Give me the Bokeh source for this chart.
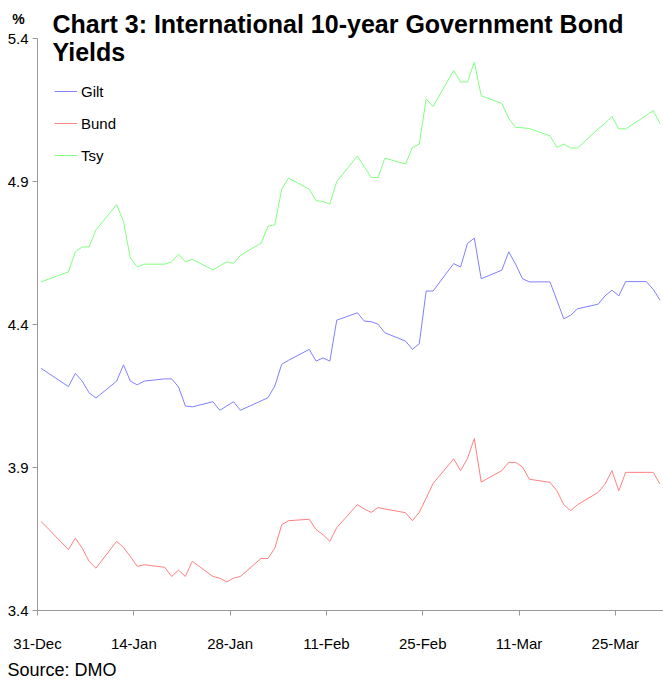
import pandas as pd
from bokeh.plotting import figure
from bokeh.models import Range1d, FixedTicker, Label, Legend, LegendItem
from bokeh.embed import file_html
from bokeh.resources import INLINE

# ---------------- data ----------------
dates = [
    "1998-12-31",
    "1999-01-04", "1999-01-05", "1999-01-06", "1999-01-07", "1999-01-08",
    "1999-01-11", "1999-01-12", "1999-01-13", "1999-01-14", "1999-01-15",
    "1999-01-18", "1999-01-19", "1999-01-20", "1999-01-21", "1999-01-22",
    "1999-01-25", "1999-01-26", "1999-01-27", "1999-01-28", "1999-01-29",
    "1999-02-01", "1999-02-02", "1999-02-03", "1999-02-04", "1999-02-05",
    "1999-02-08", "1999-02-09", "1999-02-10", "1999-02-11", "1999-02-12",
    "1999-02-15", "1999-02-16", "1999-02-17", "1999-02-18", "1999-02-19",
    "1999-02-22", "1999-02-23", "1999-02-24", "1999-02-25", "1999-02-26",
    "1999-03-01", "1999-03-02", "1999-03-03", "1999-03-04", "1999-03-05",
    "1999-03-08", "1999-03-09", "1999-03-10", "1999-03-11", "1999-03-12",
    "1999-03-15", "1999-03-16", "1999-03-17", "1999-03-18", "1999-03-19",
    "1999-03-22", "1999-03-23", "1999-03-24", "1999-03-25", "1999-03-26",
    "1999-03-29", "1999-03-30", "1999-03-31",
]

gilt = [
    4.247,
    4.183, 4.229, 4.202, 4.161, 4.143,
    4.202, 4.259, 4.202, 4.189, 4.202,
    4.210, 4.210, 4.182, 4.115, 4.112,
    4.130, 4.100, 4.115, 4.130, 4.100,
    4.133, 4.144, 4.185, 4.261, 4.275,
    4.313, 4.272, 4.283, 4.272, 4.415,
    4.441, 4.412, 4.410, 4.401, 4.371,
    4.342, 4.313, 4.333, 4.517, 4.517,
    4.613, 4.601, 4.683, 4.702, 4.560,
    4.590, 4.654, 4.611, 4.560, 4.549,
    4.549, 4.485, 4.420, 4.432, 4.455,
    4.471, 4.500, 4.520, 4.500, 4.550,
    4.550, 4.523, 4.485,
]

bund = [
    3.712,
    3.613, 3.653, 3.618, 3.572, 3.548,
    3.642, 3.620, 3.589, 3.554, 3.560,
    3.551, 3.519, 3.541, 3.519, 3.572,
    3.519, 3.513, 3.500, 3.513, 3.519,
    3.582, 3.582, 3.618, 3.700, 3.714,
    3.719, 3.683, 3.665, 3.642, 3.690,
    3.770, 3.755, 3.743, 3.760, 3.755,
    3.742, 3.714, 3.743, 3.793, 3.844,
    3.930, 3.889, 3.931, 4.001, 3.849,
    3.889, 3.918, 3.918, 3.902, 3.859,
    3.848, 3.819, 3.770, 3.749, 3.770,
    3.813, 3.842, 3.889, 3.819, 3.883,
    3.883, 3.883, 3.842,
]

tsy = [
    4.549,
    4.584, 4.654, 4.671, 4.671, 4.731,
    4.819, 4.760, 4.632, 4.601, 4.611,
    4.611, 4.619, 4.646, 4.619, 4.628,
    4.591, 4.605, 4.619, 4.614, 4.642,
    4.684, 4.743, 4.749, 4.873, 4.912,
    4.873, 4.833, 4.830, 4.821, 4.900,
    4.989, 4.952, 4.914, 4.914, 4.982,
    4.961, 5.019, 5.031, 5.189, 5.162,
    5.288, 5.248, 5.248, 5.317, 5.200,
    5.173, 5.121, 5.089, 5.088, 5.085,
    5.060, 5.019, 5.031, 5.017, 5.017,
    5.084, 5.103, 5.128, 5.084, 5.084,
    5.131, 5.148, 5.103,
]

series_names = ["Gilt", "Bund", "Tsy"]
series_colors = ["#8080ff", "#ff8080", "#80ff80"]

tick_dates = ["1998-12-31", "1999-01-14", "1999-01-28", "1999-02-11",
              "1999-02-25", "1999-03-11", "1999-03-25"]
tick_labels = ["31-Dec", "14-Jan", "28-Jan", "11-Feb", "25-Feb", "11-Mar", "25-Mar"]
axis_end_date = "1999-04-01"
y_ticks = [3.4, 3.9, 4.4, 4.9, 5.4]

title_lines = ["Chart 3: International 10-year Government Bond", "Yields"]
y_unit = "%"
source_text = "Source: DMO"

# ---------------- layout ----------------
W, H = 663, 680
# plot-area box inside the page (pixels)
AX_L, AX_R, AX_T, AX_B = 37, 663, 38, 610
FONT = "Liberation Sans"

start = pd.Timestamp(tick_dates[0])
span_days = (pd.Timestamp(axis_end_date) - start).days

# Excel date axis: each day's value sits in the middle of its day slot
x_vals = [(pd.Timestamp(d) - start).days + 0.5 for d in dates]
tick_pos = [(pd.Timestamp(d) - start).days for d in tick_dates]

ppd = (AX_R - AX_L) / span_days                    # pixels per day
ppu = (AX_B - AX_T) / (y_ticks[-1] - y_ticks[0])   # pixels per unit
x0 = -AX_L / ppd
x1 = span_days + (W - AX_R) / ppd
y1 = y_ticks[-1] + AX_T / ppu
y0 = y_ticks[0] - (H - AX_B) / ppu

p = figure(width=W, height=H, output_backend="svg", toolbar_location=None,
           x_range=Range1d(x0, x1), y_range=Range1d(y0, y1),
           min_border=0, min_border_left=0, min_border_right=0,
           min_border_top=0, min_border_bottom=0)
p.outline_line_color = None
p.grid.visible = False
p.background_fill_color = "white"
p.border_fill_color = "white"

renderers = []
for vals, col in zip([gilt, bund, tsy], series_colors):
    renderers.append(p.line(x_vals, vals, line_color=col, line_width=1))

# axes, pinned to the plot-area edges
for ax in (p.xaxis[0], p.yaxis[0]):
    ax.axis_line_color = "#999999"
    ax.major_tick_line_color = "#999999"
    ax.minor_tick_line_color = None
    ax.major_tick_out = 5
    ax.major_tick_in = 0
    ax.major_label_text_font = FONT
    ax.major_label_text_font_size = "15px"
    ax.major_label_text_color = "#000000"

p.xaxis.fixed_location = y_ticks[0]
p.xaxis.bounds = (0, span_days)
p.xaxis.ticker = FixedTicker(ticks=tick_pos)
p.xaxis.major_label_overrides = {int(t): lab for t, lab in zip(tick_pos, tick_labels)}
p.xaxis.major_label_standoff = 19

p.yaxis.fixed_location = 0
p.yaxis.bounds = (y_ticks[0], y_ticks[-1])
p.yaxis.ticker = FixedTicker(ticks=y_ticks)
p.yaxis.major_label_standoff = 4

def px2x(px):
    return x0 + px / ppd
def py2y(py):
    return y1 - py / ppu

def text_label(px, py, text, size, bold=False, align="left"):
    # py is the vertical centre of the text line
    p.add_layout(Label(x=px2x(px), y=py2y(py), text=text,
                       text_font=FONT, text_font_size=f"{size}px",
                       text_font_style="bold" if bold else "normal",
                       text_color="#000000",
                       text_baseline="middle", text_align=align))

# title
for i, line in enumerate(title_lines):
    text_label(52, 23 + i * 28.5, line, 25, bold=True)

# % unit
text_label(18, 18, y_unit, 14, bold=True, align="center")

# source
text_label(7, 669, source_text, 18)

# legend
legend = Legend(items=[LegendItem(label=n, renderers=[r]) for n, r in zip(series_names, renderers)],
                location=(54, H - 165), padding=0, margin=0, spacing=12,
                glyph_width=23, glyph_height=20, label_height=20, label_standoff=4,
                border_line_color=None, background_fill_alpha=0,
                label_text_font=FONT, label_text_font_size="15px",
                label_text_color="#000000")
p.add_layout(legend)

open("out.html", "w").write(file_html(p, INLINE))
